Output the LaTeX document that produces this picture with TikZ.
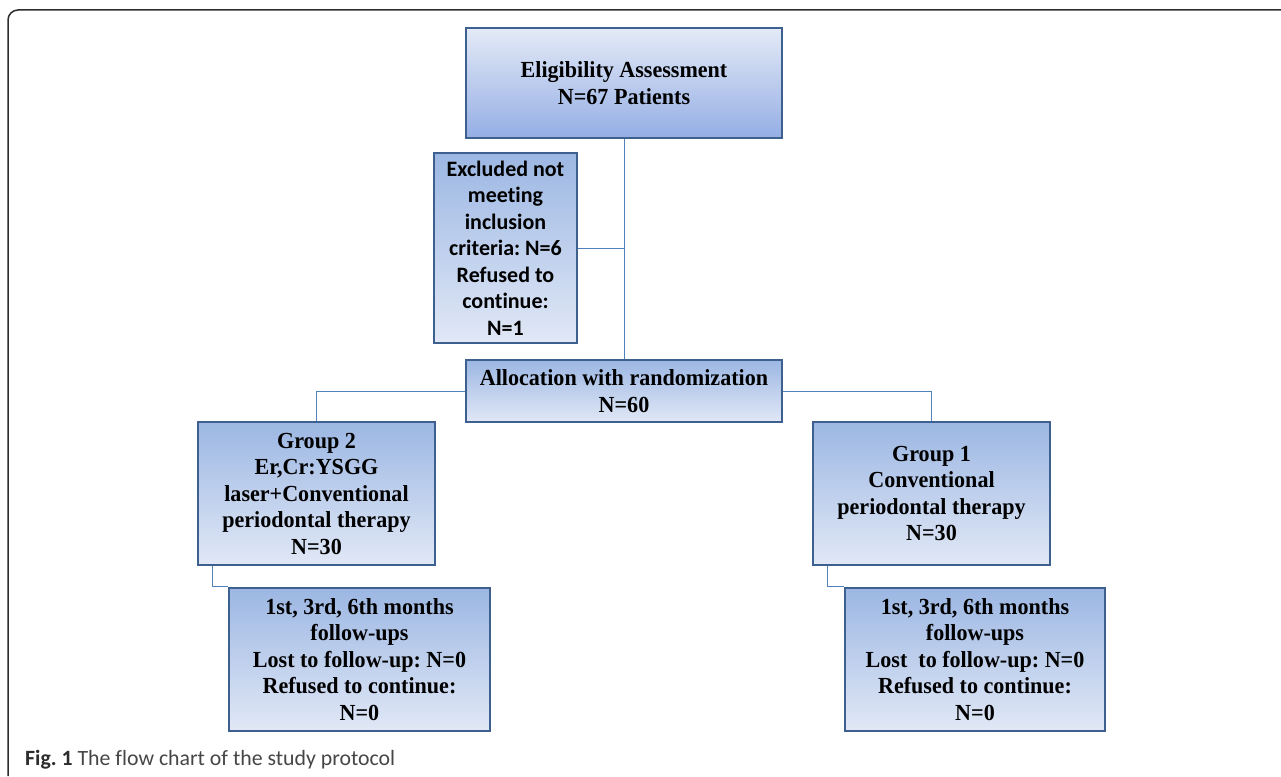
\documentclass[tikz,border=0pt]{standalone}
\usepackage{fontspec}
\setmainfont{Liberation Serif}[FakeStretch=0.96]
\newfontfamily\calfont{Carlito}[RawFeature=-liga]
\usetikzlibrary{calc}
\definecolor{bordercol}{RGB}{61,96,142}
\definecolor{linkcol}{RGB}{79,129,189}
\definecolor{shadedark}{RGB}{156,183,227}
\definecolor{shadelight}{RGB}{225,232,246}
\definecolor{framecol}{RGB}{45,45,45}
\definecolor{captcol}{RGB}{70,70,70}
\frenchspacing
\tikzset{
  boxbase/.style={draw=bordercol, line width=2.2pt, rectangle, align=center, inner sep=2pt,
    font=\frenchspacing\bfseries\fontsize{23}{26.5}\selectfont},
  boxdn/.style={boxbase, top color=shadedark, bottom color=shadelight},
  boxup/.style={boxbase, top color=shadelight!90!white, bottom color=shadedark!95!blue},
  link/.style={draw=linkcol, line width=1pt},
}
\begin{document}
\begin{tikzpicture}[x=1pt,y=-1pt]
\useasboundingbox (0,0) rectangle (1281,776);
\draw[framecol, line width=1.5pt, rounded corners=10pt] (8,776) -- (8,10) -- (1281,10);

\node[boxup, minimum width=316pt, minimum height=110pt] (elig) at (624,83)
  {Eligibility Assessment\\N=67 Patients};
\node[boxdn, minimum width=143pt, minimum height=190pt, font=\frenchspacing\calfont\bfseries\fontsize{22}{26.5}\selectfont] (excl) at (505.5,248)
  {Excluded not\\meeting\\inclusion\\criteria: N=6\\Refused to\\continue:\\N=1};
\node[boxdn, minimum width=316pt, minimum height=62pt] (alloc) at (624,391)
  {Allocation with randomization\\N=60};
\node[boxdn, minimum width=237pt, minimum height=143pt] (g2) at (316.5,493.5)
  {Group 2\\Er,Cr:YSGG\\laser+Conventional\\periodontal therapy\\N=30};
\node[boxdn, minimum width=237pt, minimum height=143pt] (g1) at (931.5,493.5)
  {Group 1\\Conventional\\periodontal therapy\\N=30};
\node[boxdn, minimum width=261pt, minimum height=143pt] (f2) at (359.5,659.5)
  {1st, 3rd, 6th months\\follow-ups\\Lost to follow-up: N=0\\Refused to continue:\\N=0};
\node[boxdn, minimum width=260pt, minimum height=143pt] (f1) at (975,659.5)
  {1st, 3rd, 6th months\\follow-ups\\Lost\ \ to follow-up: N=0\\Refused to continue:\\N=0};

\draw[link] (elig.south) -- (alloc.north);
\draw[link] (excl.east) -- (excl.east -| elig.south);
\draw[link] (alloc.west) -| (g2.north);
\draw[link] (alloc.east) -| (g1.north);
\coordinate (g2out) at ($(g2.south west)+(16,0)$);
\coordinate (g1out) at ($(g1.south west)+(16,0)$);
\draw[link] (g2out) |- (f2.north west);
\draw[link] (g1out) |- (f1.north west);

\node[anchor=base west, inner sep=0pt, font=\frenchspacing\calfont\fontsize{21.8}{25}\selectfont, text=captcol] (cap) at (25,765)
  {\textcolor{framecol}{\bfseries Fig. 1} The flow chart of the study protocol};
\end{tikzpicture}
\end{document}
